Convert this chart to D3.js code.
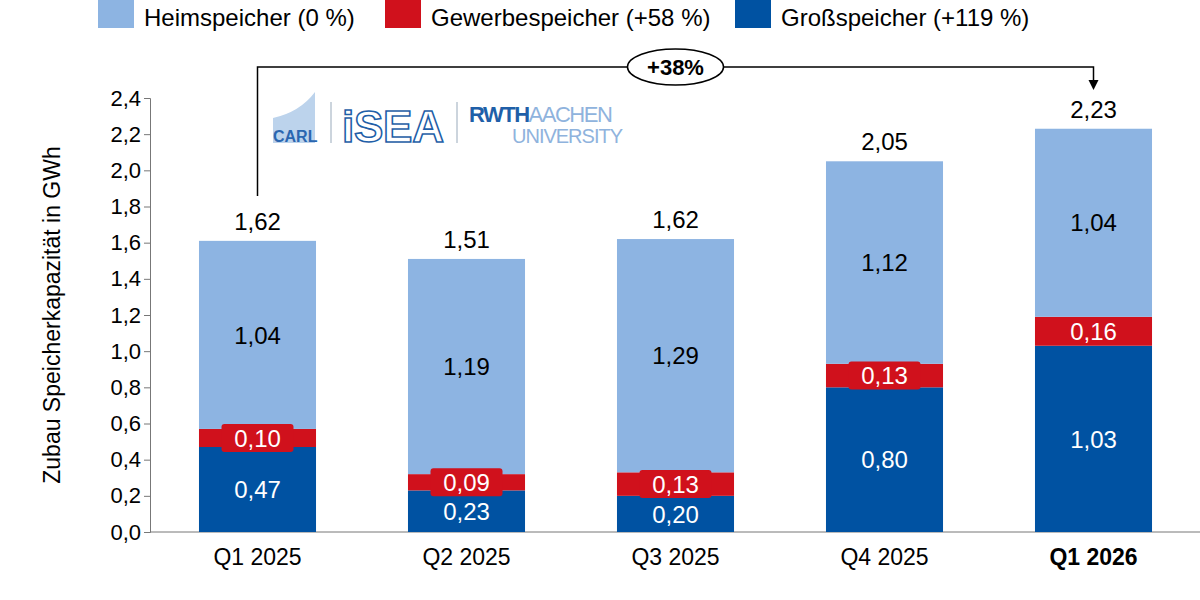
<!DOCTYPE html>
<html><head><meta charset="utf-8">
<script src="https://cdn.jsdelivr.net/npm/d3@7"></script>
<style>body{margin:0;background:#fff}text{font-family:Arial,"Liberation Sans",sans-serif}</style>
</head><body><svg id="c" width="1200" height="600"></svg>
<script>
var quarters = ["Q1 2025", "Q2 2025", "Q3 2025", "Q4 2025", "Q1 2026"];
var gross = [0.47, 0.23, 0.20, 0.80, 1.03];
var gewerbe = [0.10, 0.09, 0.13, 0.13, 0.16];
var heim = [1.04, 1.19, 1.29, 1.12, 1.04];
var totals = [1.62, 1.51, 1.62, 2.05, 2.23];
var yTicks = [0, 0.2, 0.4, 0.6, 0.8, 1.0, 1.2, 1.4, 1.6, 1.8, 2.0, 2.2, 2.4];
var seriesNames = ["Heimspeicher (0 %)", "Gewerbespeicher (+58 %)", "Großspeicher (+119 %)"];
var growthLabel = "+38%";

var colors = {heim: "#8db4e2", gew: "#d0111c", gross: "#0052a2"};
var svg = d3.select("#c");
var fmt = function(v) { return d3.format(".2f")(v).replace(".", ","); };

var x = d3.scaleBand().domain(quarters).range([153, 1198]).paddingInner(0.44).paddingOuter(0.22);
var y = d3.scaleLinear().domain([0, 2.4]).range([532, 98]);

// y axis
var ya = svg.append("g").attr("transform", "translate(150,0)")
	.call(d3.axisLeft(y).tickValues(yTicks).tickSize(6).tickFormat(function(d) { return d3.format(".1f")(d).replace(".", ","); }));
ya.selectAll("text").attr("font-size", 22).attr("fill", "#000").attr("x", -9);
ya.selectAll("line,path").attr("stroke", "#777");

svg.append("line").attr("x1", 150).attr("x2", 1200).attr("y1", 532).attr("y2", 532).attr("stroke", "#777");

svg.append("text").attr("transform", "translate(60,315) rotate(-90)")
	.attr("text-anchor", "middle").attr("font-size", 23).text("Zubau Speicherkapazität in GWh");

// stacked bars
var rows = quarters.map(function(q, i) {
	return {q: q, segs: [
		{key: "gross", v0: 0, v1: gross[i], label: gross[i]},
		{key: "gew", v0: gross[i], v1: gross[i] + gewerbe[i], label: gewerbe[i]},
		{key: "heim", v0: gross[i] + gewerbe[i], v1: gross[i] + gewerbe[i] + heim[i], label: heim[i]}
	]};
});

rows.forEach(function(r, i) {
	var g = svg.append("g");
	var bx = x(r.q), bw = x.bandwidth(), cx = bx + bw / 2;
	r.segs.forEach(function(s) {
		g.append("rect").attr("x", bx).attr("width", bw)
			.attr("y", y(s.v1)).attr("height", y(s.v0) - y(s.v1)).attr("fill", colors[s.key]);
	});
	r.segs.forEach(function(s) {
		var my = (y(s.v0) + y(s.v1)) / 2;
		if (s.key === "gew" && y(s.v0) - y(s.v1) < 28) {
			g.append("rect").attr("x", cx - 36).attr("width", 72).attr("y", my - 14).attr("height", 28)
				.attr("rx", 3).attr("fill", colors.gew);
		}
		g.append("text").attr("x", cx).attr("y", my).attr("dy", "0.36em").attr("text-anchor", "middle")
			.attr("font-size", 24).attr("fill", s.key === "heim" ? "#000" : "#fff").text(fmt(s.label));
	});
	g.append("text").attr("x", cx).attr("y", y(r.segs[2].v1) - 11).attr("text-anchor", "middle")
		.attr("font-size", 24).text(fmt(totals[i]));
	svg.append("text").attr("x", cx).attr("y", 565).attr("text-anchor", "middle").attr("font-size", 23)
		.attr("font-weight", i === 4 ? "bold" : null).text(r.q);
});

// growth bracket
var x0 = x(quarters[0]) + x.bandwidth() / 2, x1 = x(quarters[4]) + x.bandwidth() / 2;
svg.append("path").attr("d", "M" + x0 + ",196V67H" + x1 + "V84").attr("fill", "none").attr("stroke", "#000").attr("stroke-width", 1.5);
svg.append("path").attr("d", "M" + (x1 - 5) + ",80L" + (x1 + 5) + ",80L" + x1 + ",90Z").attr("fill", "#000");
var ex = (x0 + x1) / 2;
svg.append("ellipse").attr("cx", ex).attr("cy", 67).attr("rx", 48).attr("ry", 18).attr("fill", "#fff").attr("stroke", "#000").attr("stroke-width", 1.5);
svg.append("text").attr("x", ex).attr("y", 67).attr("dy", "0.36em").attr("text-anchor", "middle")
	.attr("font-size", 22).attr("font-weight", "bold").text(growthLabel);

// legend
var legX = [98, 385, 735], legC = [colors.heim, colors.gew, colors.gross];
seriesNames.forEach(function(n, i) {
	svg.append("rect").attr("x", legX[i]).attr("y", 0).attr("width", 36).attr("height", 28).attr("fill", legC[i]);
	svg.append("text").attr("x", legX[i] + 46).attr("y", 26).attr("font-size", 24).text(n);
});

// logos as text
var logo = svg.append("g");
logo.append("path").attr("d", "M273,143V118Q300,112 315,92V143Z").attr("fill", "#bcd3ec");
logo.append("text").attr("x", 273).attr("y", 142).attr("font-size", 16).attr("font-weight", "bold").attr("fill", "#2a66b0").text("CARL");
logo.append("line").attr("x1", 331).attr("x2", 331).attr("y1", 102).attr("y2", 143).attr("stroke", "#9ab").attr("stroke-width", 1);
logo.append("text").attr("x", 342).attr("y", 142).attr("font-size", 44).attr("font-weight", "bold")
	.attr("fill", "none").attr("stroke", "#1f5fa8").attr("stroke-width", 1.6).attr("textLength", 102).text("iSEA");
logo.append("line").attr("x1", 457).attr("x2", 457).attr("y1", 102).attr("y2", 143).attr("stroke", "#9ab").attr("stroke-width", 1);
logo.append("text").attr("x", 469).attr("y", 122).attr("font-size", 22).attr("font-weight", "bold").attr("letter-spacing", -1.5).attr("fill", "#1f5fa8").text("RWTH")
	.append("tspan").attr("fill", "#8fb3dd").attr("font-weight", "normal").text("AACHEN");
logo.append("text").attr("x", 512).attr("y", 143).attr("font-size", 20).attr("letter-spacing", -1).attr("fill", "#8fb3dd").text("UNIVERSITY");
</script></body></html>
